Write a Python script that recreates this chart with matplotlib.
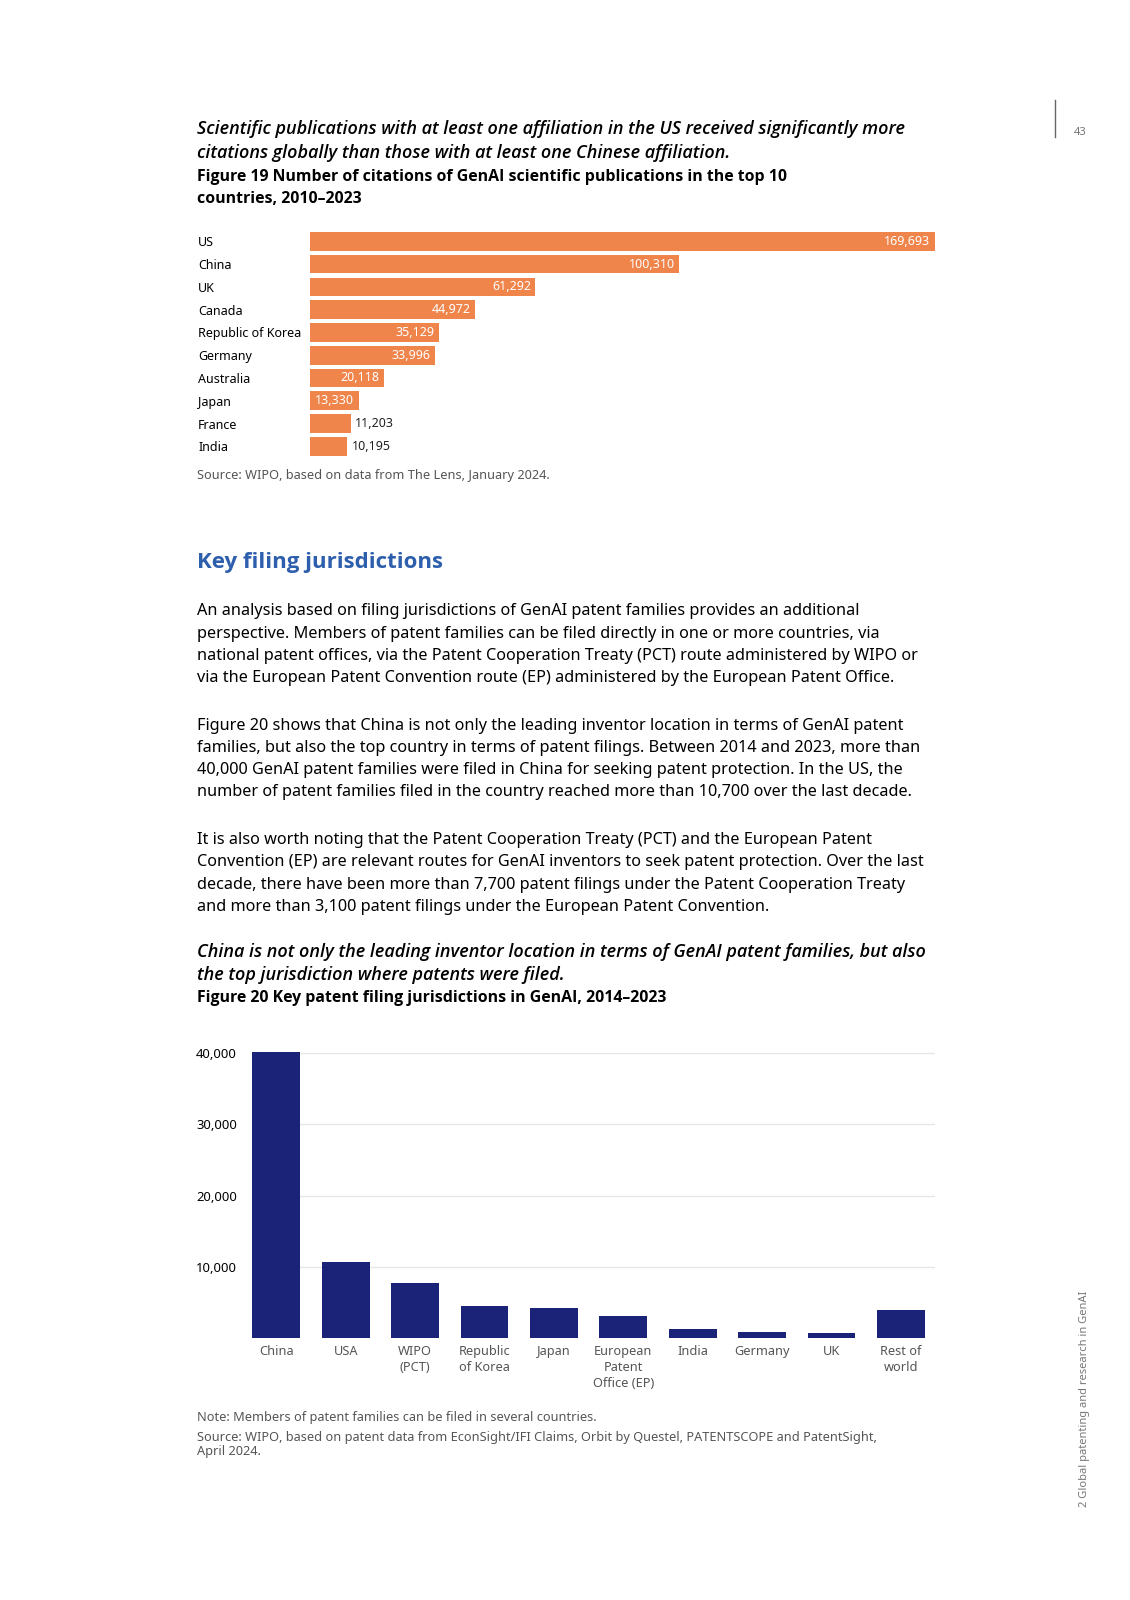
import matplotlib
matplotlib.use("Agg")
import matplotlib.pyplot as plt
from matplotlib.ticker import FuncFormatter

plt.rcParams['font.family'] = ['Noto Sans', 'DejaVu Sans']
BOLD = ['Open Sans', 'Noto Sans', 'DejaVu Sans']

# layout below is measured on the page at this scale
W, H = 1106, 1566

# Figure 19 data
cit_countries = ["US", "China", "UK", "Canada", "Republic of Korea", "Germany",
                 "Australia", "Japan", "France", "India"]
cit_values = [169693, 100310, 61292, 44972, 35129, 33996, 20118, 13330, 11203, 10195]

# Figure 20 data
jur_labels = ["China", "USA", "WIPO\n(PCT)", "Republic\nof Korea", "Japan",
              "European\nPatent\nOffice (EP)", "India", "Germany", "UK", "Rest of\nworld"]
jur_values = [40100, 10750, 7750, 4600, 4300, 3150, 1300, 950, 700, 4050]
jur_ticks = [10000, 20000, 30000, 40000]

orange = "#F0854C"
navy = "#1B2379"
grey_txt = "#555555"
blue_head = "#2E5FAC"


def fx(x):
    return x / W


def fy(y):
    return 1 - y / H


def axrect(left, top, right, bottom):
    return [fx(left), fy(bottom), (right - left) / W, (bottom - top) / H]


fig = plt.figure(figsize=(11.3, 16), dpi=100)

# page furniture
fig.add_artist(plt.Line2D([fx(1033), fx(1033)], [fy(98), fy(134)], color="#666666", lw=1))
fig.text(fx(1057), fy(130), "43", fontsize=8, color="#777777", ha="center", va="center")
fig.text(fx(1061), fy(1475), "2 Global patenting and research in GenAI", fontsize=8,
         color="#777777", rotation=90, ha="center", va="bottom")

# headline and title of figure 19
fig.text(fx(193), fy(138), "Scientific publications with at least one affiliation in the US received significantly more\n"
         "citations globally than those with at least one Chinese affiliation.",
         fontsize=13.0, style="italic", weight="semibold", family=BOLD, va="center", linespacing=1.42)
fig.text(fx(193), fy(184), "Figure 19 Number of citations of GenAI scientific publications in the top 10\n"
         "countries, 2010–2023", fontsize=11.45, weight="bold", family=BOLD, va="center", linespacing=1.45)

# Figure 19 chart
ax1 = fig.add_axes(axrect(303, 225, 915, 448))
ypos = list(range(len(cit_countries)))
ax1.barh(ypos, cit_values, height=0.82, color=orange)
ax1.set_xlim(0, max(cit_values))
ax1.set_ylim(len(cit_countries) - 0.5, -0.5)
ax1.set_xticks([])
ax1.set_yticks(ypos)
ax1.set_yticklabels(cit_countries, fontsize=9)
for lbl in ax1.get_yticklabels():
    lbl.set_horizontalalignment("left")
ax1.tick_params(axis="y", length=0, pad=(303 - 194) * 0.72 / 0.979)
for s in ax1.spines.values():
    s.set_visible(False)
for i, v in enumerate(cit_values):
    if v > 12000:
        ax1.text(v - 1200, i, f"{v:,}", color="white", fontsize=9, ha="right", va="center")
    else:
        ax1.text(v + 1200, i, f"{v:,}", color="#222222", fontsize=9, ha="left", va="center")

fig.text(fx(193), fy(465), "Source: WIPO, based on data from The Lens, January 2024.",
         fontsize=9.2, color=grey_txt, va="center")

# section heading and body
fig.text(fx(193), fy(551), "Key filing jurisdictions", fontsize=16, weight="bold",
         family=BOLD, color=blue_head, va="center")

body = [
    (631, "An analysis based on filing jurisdictions of GenAI patent families provides an additional\n"
          "perspective. Members of patent families can be filed directly in one or more countries, via\n"
          "national patent offices, via the Patent Cooperation Treaty (PCT) route administered by WIPO or\n"
          "via the European Patent Convention route (EP) administered by the European Patent Office."),
    (743, "Figure 20 shows that China is not only the leading inventor location in terms of GenAI patent\n"
          "families, but also the top country in terms of patent filings. Between 2014 and 2023, more than\n"
          "40,000 GenAI patent families were filed in China for seeking patent protection. In the US, the\n"
          "number of patent families filed in the country reached more than 10,700 over the last decade."),
    (855, "It is also worth noting that the Patent Cooperation Treaty (PCT) and the European Patent\n"
          "Convention (EP) are relevant routes for GenAI inventors to seek patent protection. Over the last\n"
          "decade, there have been more than 7,700 patent filings under the Patent Cooperation Treaty\n"
          "and more than 3,100 patent filings under the European Patent Convention."),
]
for yc, txt in body:
    fig.text(fx(193), fy(yc), txt, fontsize=11.7, va="center", linespacing=1.52)

fig.text(fx(193), fy(943), "China is not only the leading inventor location in terms of GenAI patent families, but also\n"
         "the top jurisdiction where patents were filed.",
         fontsize=13.0, style="italic", weight="semibold", family=BOLD, va="center", linespacing=1.42)
fig.text(fx(193), fy(977), "Figure 20 Key patent filing jurisdictions in GenAI, 2014–2023",
         fontsize=11.45, weight="bold", family=BOLD, va="center")

# Figure 20 chart
ax2 = fig.add_axes(axrect(247, 1028, 915, 1310))
xpos = list(range(len(jur_labels)))
ax2.bar(xpos, jur_values, width=0.69, color=navy, zorder=3)
ax2.set_xlim(-0.345, 9.49)
ax2.set_ylim(0, 40400)
ax2.set_yticks(jur_ticks)
ax2.yaxis.set_major_formatter(FuncFormatter(lambda v, p: f"{int(v):,}"))
ax2.grid(axis="y", color="#E6E6E6", lw=1, zorder=0)
ax2.tick_params(axis="y", length=0, labelsize=9.4, pad=11)
ax2.set_xticks(xpos)
ax2.set_xticklabels(jur_labels, fontsize=9.2, color=grey_txt, va="top", linespacing=1.3)
ax2.tick_params(axis="x", length=0, pad=5)
for s in ax2.spines.values():
    s.set_visible(False)

fig.text(fx(193), fy(1387), "Note: Members of patent families can be filed in several countries.",
         fontsize=9.2, color=grey_txt, va="center")
fig.text(fx(193), fy(1414), "Source: WIPO, based on patent data from EconSight/IFI Claims, Orbit by Questel, PATENTSCOPE and PatentSight,\n"
         "April 2024.", fontsize=9.2, color=grey_txt, va="center", linespacing=1.1)

fig.savefig("out.png", dpi=100)
